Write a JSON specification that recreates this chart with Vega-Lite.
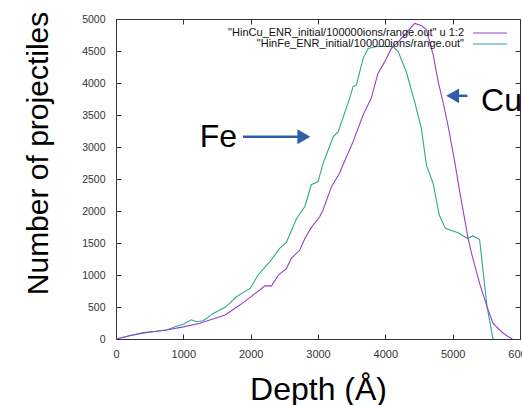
{
  "$schema": "https://vega.github.io/schema/vega-lite/v6.json",
  "width": 404,
  "height": 320,
  "autosize": {"type": "none"},
  "padding": {"left": 116, "top": 19, "right": 2, "bottom": 66},
  "background": "white",
  "config": {
    "view": {"stroke": "#333333", "strokeWidth": 1},
    "font": "Liberation Sans",
    "axis": {"grid": false, "domain": false, "labelFont": "Liberation Sans", "titleFont": "Liberation Sans", "labelColor": "#333333", "tickColor": "#333333", "titleColor": "#000000", "titleFontWeight": "normal"}
  },
  "resolve": {"axis": {"x": "independent", "y": "independent"}},
  "layer": [
    {
      "data": {"values": [
        {"s":"Fe","x":0,"y":0},{"s":"Fe","x":200,"y":50},{"s":"Fe","x":400,"y":100},{"s":"Fe","x":600,"y":120},{"s":"Fe","x":750,"y":140},{"s":"Fe","x":900,"y":200},{"s":"Fe","x":1000,"y":230},{"s":"Fe","x":1120,"y":300},{"s":"Fe","x":1195,"y":270},{"s":"Fe","x":1295,"y":285},{"s":"Fe","x":1445,"y":400},{"s":"Fe","x":1620,"y":495},{"s":"Fe","x":1740,"y":610},{"s":"Fe","x":1790,"y":660},{"s":"Fe","x":1990,"y":790},{"s":"Fe","x":2110,"y":1000},{"s":"Fe","x":2285,"y":1210},{"s":"Fe","x":2435,"y":1420},{"s":"Fe","x":2530,"y":1510},{"s":"Fe","x":2680,"y":1880},{"s":"Fe","x":2805,"y":2070},{"s":"Fe","x":2900,"y":2410},{"s":"Fe","x":3000,"y":2460},{"s":"Fe","x":3075,"y":2740},{"s":"Fe","x":3150,"y":2950},{"s":"Fe","x":3225,"y":3160},{"s":"Fe","x":3300,"y":3240},{"s":"Fe","x":3470,"y":3760},{"s":"Fe","x":3520,"y":3940},{"s":"Fe","x":3570,"y":3970},{"s":"Fe","x":3670,"y":4385},{"s":"Fe","x":3745,"y":4540},{"s":"Fe","x":3870,"y":4570},{"s":"Fe","x":4015,"y":4570},{"s":"Fe","x":4115,"y":4570},{"s":"Fe","x":4190,"y":4490},{"s":"Fe","x":4310,"y":4180},{"s":"Fe","x":4435,"y":3710},{"s":"Fe","x":4535,"y":3290},{"s":"Fe","x":4610,"y":2720},{"s":"Fe","x":4710,"y":2430},{"s":"Fe","x":4800,"y":1940},{"s":"Fe","x":4890,"y":1730},{"s":"Fe","x":5080,"y":1660},{"s":"Fe","x":5220,"y":1570},{"s":"Fe","x":5300,"y":1610},{"s":"Fe","x":5400,"y":1555},{"s":"Fe","x":5510,"y":505},{"s":"Fe","x":5600,"y":0},
        {"s":"Cu","x":0,"y":0},{"s":"Cu","x":200,"y":50},{"s":"Cu","x":400,"y":90},{"s":"Cu","x":600,"y":120},{"s":"Cu","x":750,"y":140},{"s":"Cu","x":1000,"y":190},{"s":"Cu","x":1245,"y":245},{"s":"Cu","x":1620,"y":375},{"s":"Cu","x":1840,"y":530},{"s":"Cu","x":2040,"y":690},{"s":"Cu","x":2135,"y":765},{"s":"Cu","x":2210,"y":830},{"s":"Cu","x":2310,"y":830},{"s":"Cu","x":2410,"y":1000},{"s":"Cu","x":2530,"y":1100},{"s":"Cu","x":2605,"y":1260},{"s":"Cu","x":2730,"y":1390},{"s":"Cu","x":2805,"y":1570},{"s":"Cu","x":2900,"y":1740},{"s":"Cu","x":3025,"y":1910},{"s":"Cu","x":3075,"y":2015},{"s":"Cu","x":3200,"y":2380},{"s":"Cu","x":3320,"y":2590},{"s":"Cu","x":3370,"y":2720},{"s":"Cu","x":3520,"y":3080},{"s":"Cu","x":3670,"y":3500},{"s":"Cu","x":3790,"y":3760},{"s":"Cu","x":3890,"y":4150},{"s":"Cu","x":3990,"y":4330},{"s":"Cu","x":4090,"y":4540},{"s":"Cu","x":4215,"y":4670},{"s":"Cu","x":4310,"y":4780},{"s":"Cu","x":4435,"y":4930},{"s":"Cu","x":4535,"y":4900},{"s":"Cu","x":4610,"y":4830},{"s":"Cu","x":4710,"y":4440},{"s":"Cu","x":4785,"y":4020},{"s":"Cu","x":4855,"y":3710},{"s":"Cu","x":4930,"y":3340},{"s":"Cu","x":5030,"y":2770},{"s":"Cu","x":5100,"y":2330},{"s":"Cu","x":5230,"y":1570},{"s":"Cu","x":5280,"y":1340},{"s":"Cu","x":5400,"y":870},{"s":"Cu","x":5510,"y":505},{"s":"Cu","x":5600,"y":245},{"s":"Cu","x":5750,"y":90},{"s":"Cu","x":5885,"y":0}
      ]},
      "mark": {"type": "line", "strokeWidth": 1.1, "clip": true},
      "encoding": {
        "x": {"field": "x", "type": "quantitative", "scale": {"domain": [0, 6000], "nice": false},
              "axis": {"orient": "bottom", "values": [0,1000,2000,3000,4000,5000,6000], "format": "d", "tickSize": -5, "labelPadding": 14, "labelFontSize": 11, "labelFlush": false,
                       "title": "Depth (Å)", "titleFontSize": 32, "titleY": 60, "titleBaseline": "alphabetic"}},
        "y": {"field": "y", "type": "quantitative", "scale": {"domain": [0, 5000], "nice": false},
              "axis": {"orient": "left", "values": [0,500,1000,1500,2000,2500,3000,3500,4000,4500,5000], "format": "d", "tickSize": -5, "labelPadding": 16, "labelFontSize": 10.5, "labelFlush": false,
                       "title": "Number of projectiles", "titleFontSize": 30, "titleX": -78, "titleY": 134, "titleAngle": -90, "titleAlign": "center", "titleBaseline": "middle"}},
        "color": {"field": "s", "type": "nominal", "scale": {"domain": ["Cu", "Fe"], "range": ["#9440d0", "#2fa88e"]},
                  "legend": {"title": null, "orient": "none", "legendX": 368, "legendY": 8, "padding": 0, "symbolType": "M-3.4,0L3.4,0", "symbolSize": 100, "symbolStrokeWidth": 1.2,
                             "labelAlign": "right", "labelOffset": -32, "labelFontSize": 11, "labelColor": "#111111", "labelLimit": 400, "rowPadding": 0,
                             "labelExpr": "datum.label == 'Cu' ? '\"HinCu_ENR_initial/100000ions/range.out\" u 1:2' : '\"HinFe_ENR_initial/100000ions/range.out\"'"}}
      }
    },
    {
      "data": {"values": [
        {"x": 1885, "x2": 2730, "y": 3160},
        {"x": 5075, "x2": 5220, "y": 3800}
      ]},
      "mark": {"type": "rule", "color": "#2f5fa8", "strokeWidth": 2.5},
      "encoding": {
        "x": {"field": "x", "type": "quantitative", "axis": {"orient": "top", "values": [0,1000,2000,3000,4000,5000,6000], "tickSize": -5, "labels": false, "title": null}},
        "x2": {"field": "x2"},
        "y": {"field": "y", "type": "quantitative", "axis": {"orient": "right", "values": [0,500,1000,1500,2000,2500,3000,3500,4000,4500,5000], "tickSize": -5, "labels": false, "title": null}}
      }
    },
    {
      "data": {"values": [
        {"x": 2790, "y": 3160, "dir": "r"},
        {"x": 5000, "y": 3800, "dir": "l"}
      ]},
      "mark": {"type": "point", "filled": true, "color": "#2f5fa8", "opacity": 1, "size": 220},
      "encoding": {
        "x": {"field": "x", "type": "quantitative", "axis": null},
        "y": {"field": "y", "type": "quantitative", "axis": null},
        "shape": {"field": "dir", "type": "nominal", "scale": {"domain": ["r", "l"], "range": ["triangle-right", "triangle-left"]}, "legend": null}
      }
    },
    {
      "data": {"values": [
        {"label": "Fe", "x": 1520, "y": 3005},
        {"label": "Cu", "x": 5725, "y": 3555}
      ]},
      "mark": {"type": "text", "fontSize": 32, "font": "Liberation Sans", "color": "#000000", "align": "center", "baseline": "alphabetic"},
      "encoding": {
        "x": {"field": "x", "type": "quantitative", "axis": null},
        "y": {"field": "y", "type": "quantitative", "axis": null},
        "text": {"field": "label"}
      }
    }
  ]
}
